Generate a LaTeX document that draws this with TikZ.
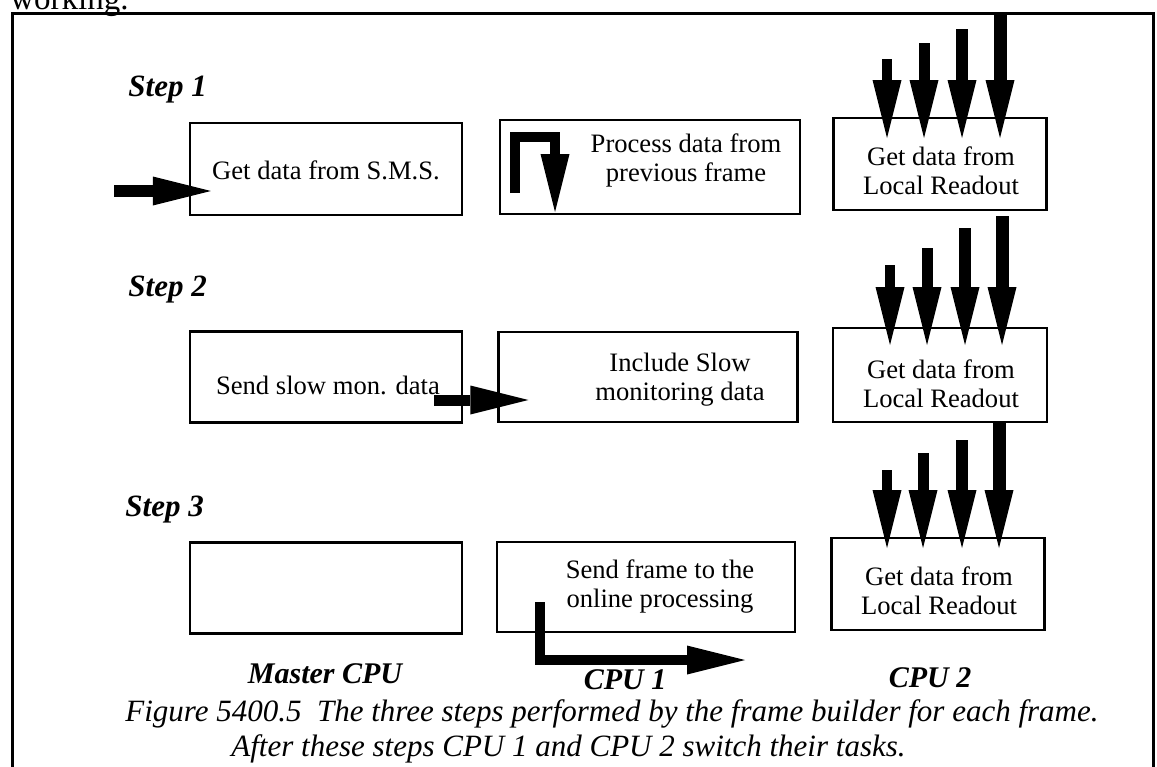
\documentclass[tikz,border=0pt]{standalone}
\usepackage{fontspec}
\setmainfont{Liberation Serif}
\usetikzlibrary{arrows.meta}

\tikzset{
  box/.style 2 args={draw, line width=1.2pt, minimum width=#1, minimum height=#2, inner sep=0pt},
  boxtxt/.style={align=center, inner sep=0pt, font=\fontsize{13.3}{14.5}\selectfont},
  steplbl/.style={anchor=west, inner sep=0pt, font=\fontsize{15.5}{18}\selectfont\bfseries\itshape},
  cpulbl/.style={anchor=base, inner sep=0pt, font=\fontsize{15}{18}\selectfont\bfseries\itshape},
  fat/.style={line width=#1, -{Triangle[length=29pt,width=14.5pt,line width=0pt]}},
}

\begin{document}
\begin{tikzpicture}[x=0.5pt,y=0.5pt,yscale=-1]
\clip (0,0) rectangle (1157,766);

% Text Node (cut off by the page edge, as in the scan)
\node[anchor=base west, inner sep=0pt, font=\fontsize{16.5}{18}\selectfont] (working) at (10,9) {working.};

%Shape: Frame
\draw[line width=1.5pt] (12,13) rectangle (1153,820);

% Step labels
\node[steplbl] (step1) at (128,90) {Step 1};
\node[steplbl] (step2) at (128,290) {Step 2};
\node[steplbl] (step3) at (125,510) {Step 3};

%Shape: Rectangle - Master CPU
\node[box={136pt}{46pt}] (master1) at (326,169) {};
\node[box={136pt}{45.5pt}] (master2) at (326,377) {};
\node[box={136pt}{45.5pt}] (master3) at (326,588) {};
%Shape: Rectangle - CPU 1
\node[box={150pt}{47pt}] (cpuone1) at (650,167) {};
\node[box={149.5pt}{45pt}] (cpuone2) at (648,377) {};
\node[box={149pt}{45pt}] (cpuone3) at (646,587) {};
%Shape: Rectangle - CPU 2
\node[box={106.5pt}{46pt}] (cputwo1) at (940,164) {};
\node[box={107pt}{47pt}] (cputwo2) at (940,375) {};
\node[box={106.5pt}{46pt}] (cputwo3) at (938,584) {};

% Text Node
\node[boxtxt] (master1t) at (326,170) {Get data from S.M.S.};
\node[boxtxt] (master2t) at (328,385) {Send slow mon. data};
\node[boxtxt] (cpuone1t) at (686,160) {Process data from\\previous frame};
\node[boxtxt] (cpuone2t) at (680,380) {Include Slow\\monitoring data};
\node[boxtxt] (cpuone3t) at (660,586) {Send frame to the\\online processing};
\node[boxtxt] (cputwo1t) at (941,171) {Get data from\\Local Readout};
\node[boxtxt] (cputwo2t) at (941,384) {Get data from\\Local Readout};
\node[boxtxt] (cputwo3t) at (939,591) {Get data from\\Local Readout};

%Straight Lines - step 1
\coordinate (smsin) at (114,191);
\draw[fat=6pt] (smsin) -- ([shift={(11pt,11pt)}]master1.west);
\draw[fat=5pt] (515,193) |- (555,137) -- (555,212);
\draw[fat=5pt] (887,59) -- (887,138);
\draw[fat=5.5pt] (924,43) -- (924,138);
\draw[fat=6pt] (962,29) -- (962,138);
\draw[fat=6.5pt] (1000,13) -- (1000,138);

%Straight Lines - step 2
\draw[fat=5.5pt] ([shift={(-14.5pt,11.5pt)}]master2.east) -- ([shift={(15.5pt,11.5pt)}]cpuone2.west);
\draw[fat=5pt] (890,265) -- (890,345);
\draw[fat=5.5pt] (927,248) -- (927,345);
\draw[fat=6pt] (965,228) -- (965,345);
\draw[fat=6.5pt] (1002,216) -- (1002,345);

%Straight Lines - step 3
\draw[fat=5pt] (540,602) |- (745,660);
\draw[fat=5pt] (887,470) -- (887,548);
\draw[fat=5.5pt] (923,453) -- (923,548);
\draw[fat=6pt] (962,440) -- (962,548);
\draw[fat=6.5pt] (999,423) -- (999,548);

% CPU labels
\node[cpulbl] (mastercpu) at (325,683) {Master CPU};
\node[cpulbl] (cpuone) at (625,689) {CPU 1};
\node[cpulbl] (cputwo) at (930,687) {CPU 2};

% Caption (base = baseline of its last line)
\node[anchor=base west, inner sep=0pt, align=left, font=\fontsize{15.5}{17.5}\selectfont\itshape] (caption) at (125,756)
  {Figure 5400.5~ The three steps performed by the frame builder for each frame.\\
   \hspace*{53pt}After these steps CPU 1 and CPU 2 switch their tasks.};
\end{tikzpicture}
\end{document}
